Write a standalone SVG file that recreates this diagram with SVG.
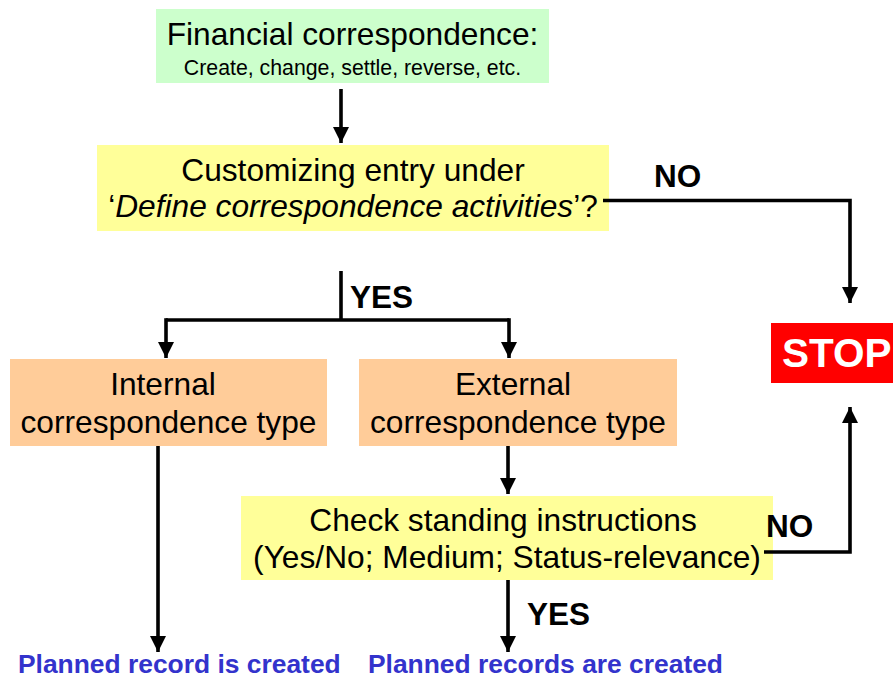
<svg xmlns="http://www.w3.org/2000/svg" width="893" height="679" viewBox="0 0 893 679">
  <style>
    .t { font-family: "Liberation Sans", Arial, sans-serif; font-size: 31.7px; fill: #000; text-anchor: middle; }
    .small { font-size: 21.3px; }
    .lbl { font-family: "Liberation Sans", Arial, sans-serif; font-size: 31.5px; font-weight: bold; fill: #000; }
    .res { font-family: "Liberation Sans", Arial, sans-serif; font-size: 26.4px; font-weight: bold; fill: #3333CC; }
    .stop { font-family: "Liberation Sans", Arial, sans-serif; font-size: 40.5px; font-weight: bold; fill: #FFFFFF; }
    .conn { fill: none; stroke: #000; stroke-width: 3.6; stroke-linejoin: miter; }
  </style>
  <defs>
    <marker id="arrow" markerUnits="userSpaceOnUse" markerWidth="18" markerHeight="18" viewBox="0 0 18 18" refX="16" refY="9" orient="auto">
      <path d="M0,1 L16,9 L0,17 Z" fill="#000"/>
    </marker>
  </defs>

  <rect width="893" height="679" fill="#FFFFFF"/>

  <!-- nodes -->
  <g id="financial-correspondence">
    <rect x="156" y="9" width="393" height="74" fill="#CCFFCC"/>
    <text class="t" x="352.5" y="45">Financial correspondence:</text>
    <text class="t small" x="352.5" y="75">Create, change, settle, reverse, etc.</text>
  </g>

  <g id="customizing-entry">
    <rect x="97" y="145" width="512" height="86" fill="#FFFF99"/>
    <text class="t" x="353" y="181">Customizing entry under</text>
    <text class="t" x="353" y="217">‘<tspan font-style="italic">Define correspondence activities</tspan>’?</text>
  </g>

  <g id="stop">
    <rect x="771" y="323" width="122" height="60" fill="#FF0000"/>
    <text class="stop" x="782" y="367">STOP</text>
  </g>

  <g id="internal-type">
    <rect x="10" y="359" width="317" height="87" fill="#FFCC99"/>
    <text class="t" x="163" y="395">Internal</text>
    <text class="t" x="168.5" y="433">correspondence type</text>
  </g>

  <g id="external-type">
    <rect x="359" y="359" width="318" height="87" fill="#FFCC99"/>
    <text class="t" x="513" y="395">External</text>
    <text class="t" x="518" y="433">correspondence type</text>
  </g>

  <g id="standing-instructions">
    <rect x="241" y="496" width="532" height="84" fill="#FFFF99"/>
    <text class="t" x="503" y="531">Check standing instructions</text>
    <text class="t" x="507" y="568">(Yes/No; Medium; Status-relevance)</text>
  </g>

  <g id="planned-record">
    <text class="res" x="18" y="673">Planned record is created</text>
  </g>

  <g id="planned-records">
    <text class="res" x="368" y="673">Planned records are created</text>
  </g>

  <!-- connectors -->
  <g id="connectors">
    <path class="conn" d="M341,89 V143" marker-end="url(#arrow)"/>
    <path class="conn" d="M603,200.5 H850 V303" marker-end="url(#arrow)"/>
    <path class="conn" d="M341,271 V320"/>
    <path class="conn" d="M166,320 H509"/>
    <path class="conn" d="M166,318.2 V358" marker-end="url(#arrow)"/>
    <path class="conn" d="M509,318.2 V358" marker-end="url(#arrow)"/>
    <path class="conn" d="M158,446 V652" marker-end="url(#arrow)"/>
    <path class="conn" d="M508,446 V494" marker-end="url(#arrow)"/>
    <path class="conn" d="M508,580 V652" marker-end="url(#arrow)"/>
    <path class="conn" d="M764,552 H850 V407" marker-end="url(#arrow)"/>

    <text class="lbl" x="654" y="187">NO</text>
    <text class="lbl" x="350" y="308">YES</text>
    <text class="lbl" x="766" y="537">NO</text>
    <text class="lbl" x="527" y="625">YES</text>
  </g>
</svg>
